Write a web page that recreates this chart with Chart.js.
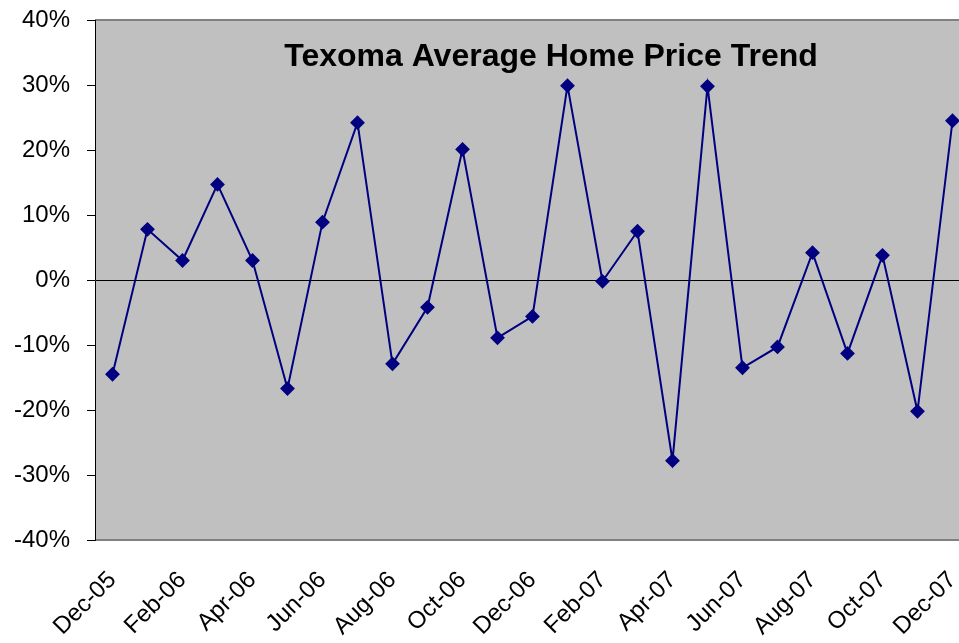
<!DOCTYPE html>
<html>
<head>
<meta charset="utf-8">
<script src="https://cdn.jsdelivr.net/npm/chart.js@4/dist/chart.umd.min.js"></script>
<style>
  html, body { margin: 0; padding: 0; background: #fff; overflow: hidden; }
  #wrap { width: 959px; height: 643px; overflow: hidden; }
</style>
</head>
<body>
<div id="wrap"><canvas id="chart" width="978" height="643"></canvas></div>
<script>
const months = ["Dec-05","Jan-06","Feb-06","Mar-06","Apr-06","May-06","Jun-06","Jul-06","Aug-06","Sep-06","Oct-06","Nov-06",
  "Dec-06","Jan-07","Feb-07","Mar-07","Apr-07","May-07","Jun-07","Jul-07","Aug-07","Sep-07","Oct-07","Nov-07","Dec-07"];
const priceChange = [-14.5, 7.8, 3.0, 14.7, 3.0, -16.7, 8.9, 24.2, -12.9, -4.2, 20.1, -8.9,
  -5.6, 29.9, -0.2, 7.5, -27.8, 29.8, -13.5, -10.3, 4.2, -11.3, 3.8, -20.2, 24.5];
const yTicks = [-40, -30, -20, -10, 0, 10, 20, 30, 40];
const chartTitle = "Texoma Average Home Price Trend";

const plotBg = {
  id: "plotBg",
  beforeDraw(chart) {
    const { ctx, chartArea: a } = chart;
    ctx.save();
    ctx.fillStyle = "#c0c0c0";
    ctx.fillRect(a.left, a.top, a.right - a.left, a.bottom - a.top);
    ctx.strokeStyle = "#808080";
    ctx.lineWidth = 2;
    ctx.beginPath();
    ctx.moveTo(a.left, a.top); ctx.lineTo(a.right, a.top);
    ctx.moveTo(a.left, a.bottom); ctx.lineTo(a.right, a.bottom);
    ctx.stroke();
    ctx.restore();
  },
  afterDatasetsDraw(chart) {
    const { ctx, chartArea: a } = chart;
    ctx.save();
    ctx.font = "bold 32px 'Liberation Sans', Arial, sans-serif";
    ctx.fillStyle = "#000";
    ctx.textAlign = "center";
    ctx.textBaseline = "alphabetic";
    ctx.fillText(chartTitle, a.left + 456, a.top + 46);
    ctx.restore();
  }
};

new Chart(document.getElementById("chart"), {
  type: "line",
  data: {
    labels: months,
    datasets: [{
      data: priceChange,
      borderColor: "#000080",
      backgroundColor: "#000080",
      borderWidth: 2,
      pointStyle: "rectRot",
      pointRadius: 6,
      pointHoverRadius: 6,
      tension: 0
    }]
  },
  options: {
    responsive: false,
    animation: false,
    layout: { padding: { top: 20, left: 0, right: 0, bottom: 0 } },
    plugins: { legend: { display: false }, tooltip: { enabled: false } },
    scales: {
      x: {
        offset: true,
        grid: { display: false, offset: true },
        border: { display: false },
        afterFit: axis => { axis.height = 103; axis.paddingLeft = 0; axis.paddingRight = 0; },
        ticks: {
          autoSkip: false,
          maxRotation: 45,
          minRotation: 45,
          padding: 18,
          color: "#000",
          font: { family: "'Liberation Sans', Arial, sans-serif", size: 24 },
          callback: (v, i) => i % 2 === 0 ? months[i] : ""
        }
      },
      y: {
        min: -40,
        max: 40,
        afterBuildTicks: axis => { axis.ticks = yTicks.map(v => ({ value: v })); },
        afterFit: axis => { axis.width = 95; axis.paddingTop = 0; axis.paddingBottom = 0; },
        grid: {
          color: c => c.tick && c.tick.value === 0 ? "#000" : "rgba(0,0,0,0)",
          lineWidth: 1,
          tickColor: "#000",
          tickLength: 8,
          drawTicks: true
        },
        border: { display: true, color: "#000", width: 1 },
        ticks: {
          color: "#000",
          padding: 17,
          font: { family: "'Liberation Sans', Arial, sans-serif", size: 24 },
          callback: v => v + "%"
        }
      }
    }
  },
  plugins: [plotBg]
});
</script>
</body>
</html>
